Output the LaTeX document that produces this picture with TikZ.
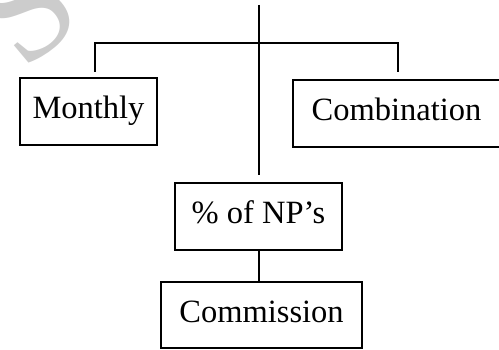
\documentclass[tikz,border=0pt]{standalone}
\usepackage{fontspec}
\setmainfont{Liberation Serif}
\begin{document}
\begin{tikzpicture}[x=1pt,y=-1pt,
  box/.style={draw=black, line width=1.3pt, inner sep=0pt,
    text height=22pt, text depth=7pt,
    font=\fontsize{32.5}{38}\selectfont},
  link/.style={draw=black, line width=1.6pt},
  watermark/.style={text=black!20, inner sep=0pt, font=\fontsize{150}{150}\selectfont}]
\useasboundingbox (0,0) rectangle (499,350);

% faint watermark letter in the corner
\node[watermark, rotate=40] (wm) at (24,8) {S};

% boxes
\node[box, minimum width=137pt, minimum height=67pt] (mon)  at (88.5,111.5) {Monthly};
\node[box, minimum width=207pt, minimum height=67pt] (comb) at (396.5,113.5) {Combination};
\node[box, minimum width=167pt, minimum height=67pt] (np)   at (258.5,216.5) {\% of NP’s};
\node[box, minimum width=201pt, minimum height=66pt] (com)  at (261.5,315) {Commission};

% free ends of the branching connectors
\coordinate (top)  at (259,5);
\coordinate (stem) at (259,175);
\coordinate (jl)   at (95,43);
\coordinate (jr)   at (398,43);
\coordinate (dl)   at (95,72);
\coordinate (dr)   at (398,72);

\draw[link] (top) -- (stem);
\draw[link] (dl) -- (jl) -- (jr) -- (dr);
\draw[link] (np.south -| stem) -- (com.north -| stem);
\end{tikzpicture}
\end{document}
